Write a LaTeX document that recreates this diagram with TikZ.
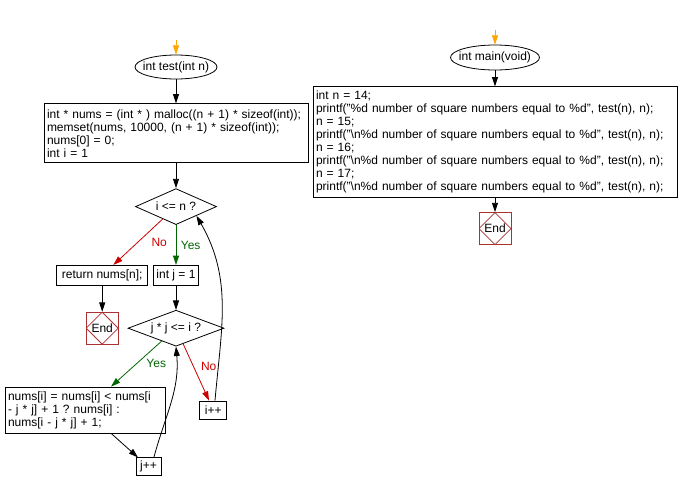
\documentclass[tikz,border=0pt]{standalone}
\usepackage{fontspec}
\setmainfont{Liberation Sans}
\usetikzlibrary{positioning,shapes.geometric,arrows.meta}
\definecolor{noRed}{RGB}{204,0,0}
\definecolor{yesGreen}{RGB}{0,102,0}
\definecolor{endRed}{RGB}{170,50,50}
\definecolor{startOrange}{RGB}{255,165,0}
\frenchspacing
\begin{document}
\begin{tikzpicture}[->,>={Triangle[length=7pt,width=4.5pt]},x=0.75pt,y=-0.75pt,line width=0.6pt,
		font=\fontsize{9}{9.75}\selectfont,
		terminal/.style={ellipse,draw,inner xsep=-6pt,inner ysep=0pt,minimum height=18pt},
		process/.style={rectangle,draw,align=left,inner xsep=2.25pt,inner ysep=2pt,minimum height=15pt},
		decision/.style={diamond,draw,inner sep=0pt,aspect=2.5,minimum height=27pt},
		endbox/.style={rectangle,draw=endRed,minimum size=24pt,inner sep=0pt,
			path picture={\draw[-,endRed] (path picture bounding box.north) -- (path picture bounding box.east) -- (path picture bounding box.south) -- (path picture bounding box.west) -- cycle;}}]
				\useasboundingbox (0,0) rectangle (678,486);
				% test(n)
				\node [terminal,minimum width=61.5pt] (test) at (176,67) {int test(int n)};
				\node [process,text width=193.5pt,minimum height=44.25pt,below=18pt of test] (init) {int * nums = (int * ) malloc((n + 1) * sizeof(int));\\ memset(nums, 10000, (n + 1) * sizeof(int));\\ nums[0] = 0;\\ int i = 1};
				\node [decision,minimum width=60.75pt,below=18.75pt of init] (outer) {i <= n ?};
				\node [process,minimum width=33.75pt,below=30pt of outer] (setj) {int j = 1};
				\node [process,minimum width=68.25pt,left=3.75pt of setj] (ret) {return nums[n];};
				\node [endbox,below=19.5pt of ret] (end1) {End};
				\node [decision,minimum width=72pt,below=18pt of setj] (inner) {j * j <= i ?};
				\node [process,text width=115.5pt,minimum height=34.5pt,below=30pt of inner.south,xshift=-68.25pt] (update) {nums[i] = nums[i] < nums[i\\ - j * j] + 1 ? nums[i] :\\ nums[i - j * j] + 1;};
				\node [process,minimum width=20.25pt,minimum height=13.5pt,below=40.5pt of inner.south,xshift=28pt] (inci) {i++};
				\node [process,minimum width=18.75pt,minimum height=13.5pt,below=18pt of update,xshift=47.6pt] (incj) {j++};
				% main
				\node [terminal,minimum width=66.75pt,minimum height=18.75pt] (main) at (495,57.5) {int main(void)};
				\node [process,text width=268.5pt,minimum height=83.25pt,below=12pt of main] (calls) {int n = 14;\\ printf("\%d number of square numbers equal to \%d", test(n), n);\\ n = 15;\\ printf("\textbackslash n\%d number of square numbers equal to \%d", test(n), n);\\ n = 16;\\ printf("\textbackslash n\%d number of square numbers equal to \%d", test(n), n);\\ n = 17;\\ printf("\textbackslash n\%d number of square numbers equal to \%d", test(n), n);};
				\node [endbox,below=10.5pt of calls] (end2) {End};
				\coordinate (testin) at (176,40);
				\coordinate (mainin) at (495,30);
				\path (testin) edge [startOrange] (test);
				\path (mainin) edge [startOrange] (main);
				\path (test) edge (init);
				\path (init) edge (outer);
				\path (outer) edge [noRed] node [right=6.5pt] {No} (ret);
				\path (outer) edge [yesGreen] node [right] {Yes} (setj);
				\path (ret) edge (end1);
				\path (setj) edge (inner);
				\path (inner) edge [yesGreen] node [right=4pt] {Yes} (update);
				\path (inner) edge [noRed] node [pos=0.4,right=2pt] {No} (inci);
				\path (update) edge (incj);
				\path (incj.60) edge [out=75,in=-85] (inner.south);
				\path (inci.80) edge [out=85,in=-60] (outer.south east);
				\path (main) edge (calls);
				\path (calls) edge (end2);
			\end{tikzpicture}
\end{document}
